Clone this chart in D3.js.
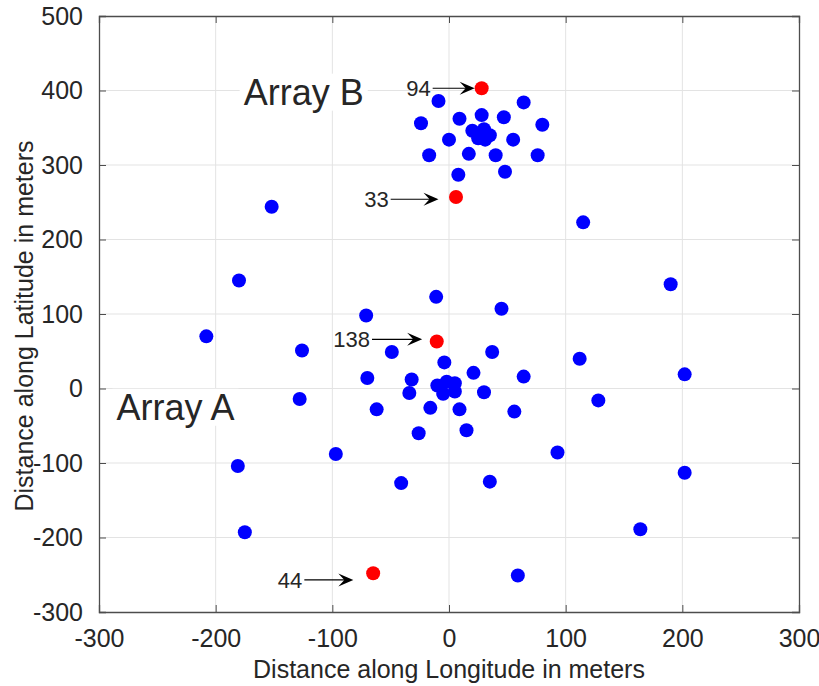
<!DOCTYPE html>
<html><head><meta charset="utf-8">
<script src="https://cdn.jsdelivr.net/npm/d3@7"></script>
<style>body{margin:0;background:#fff;} text{font-family:"Liberation Sans",Arial,Helvetica,sans-serif;}</style>
</head><body>
<svg id="c" width="819" height="686"></svg>
<script>
// ---- data ----
const blueX = [-9,64,-24,9,28,47,80,20,30,35,25,31,0,55,-17,17,40,76,8,48,
  -152,115,-180,190,-208,-11,-71,45,-126,-49,37,112,-4,21,202,-70,-32,64,-10,-2,5,-5,5,-34,30,-128,128,-62,-16,9,56,-26,15,-97,93,-181,202,-41,35,-175,164,59];
const blueY = [386,384,356,362,367,364,354,346,348,340,336,334,334,334,313,315,313,313,287,291,
  244,223,145,140,70,123,98,107,51,49,49,40,35,21,19,14,12,16,4,9,7,-7,-4,-6,-5,-14,-16,-28,-26,-28,-31,-60,-56,-88,-86,-104,-113,-127,-125,-193,-189,-251];
const redX = [28,6,-10.5,-65];
const redY = [403,257,63,-248];
const annLabels = ["94","33","138","44"];
const annStartX = [-14,-50,-66,-124];
const annEndX = [22,-9,-23,-82];
const annY = [403,254,66,-257];
const groupLabels = ["Array B","Array A"];
const groupX = [-176,-285];
const groupY = [381,-42];
const xTicks = [-300,-200,-100,0,100,200,300];
const yTicks = [-300,-200,-100,0,100,200,300,400,500];
const xLabel = "Distance along Longitude in meters";
const yLabel = "Distance along Latitude in meters";

// ---- layout ----
const L=99,R=799,T=16,B=612;
const svg=d3.select("#c");
const x=d3.scaleLinear().domain([-300,300]).range([L,R]);
const y=d3.scaleLinear().domain([-300,500]).range([B,T]);
const textCol="#262626", axisCol="#4d4d4d", gridCol="#e3e3e3";

// grid
svg.append("g").selectAll("line").data(xTicks.slice(1,-1)).join("line")
  .attr("x1",d=>x(d)).attr("x2",d=>x(d)).attr("y1",T).attr("y2",B).attr("stroke",gridCol).attr("stroke-width",1);
svg.append("g").selectAll("line").data(yTicks.slice(1,-1)).join("line")
  .attr("y1",d=>y(d)).attr("y2",d=>y(d)).attr("x1",L).attr("x2",R).attr("stroke",gridCol).attr("stroke-width",1);

// axes (box with inward ticks)
const tl=7;
const fmt=d=>String(d);
const ax=svg.append("g").attr("transform",`translate(0,${B})`).call(d3.axisBottom(x).tickValues(xTicks).tickSize(-tl).tickPadding(10+tl).tickFormat(fmt));
const axT=svg.append("g").attr("transform",`translate(0,${T})`).call(d3.axisTop(x).tickValues(xTicks).tickSize(-tl).tickFormat(""));
const ay=svg.append("g").attr("transform",`translate(${L},0)`).call(d3.axisLeft(y).tickValues(yTicks).tickSize(-tl).tickPadding(9+tl).tickFormat(fmt));
const ayR=svg.append("g").attr("transform",`translate(${R},0)`).call(d3.axisRight(y).tickValues(yTicks).tickSize(-tl).tickFormat(""));
[ax,axT,ay,ayR].forEach(g=>{
  g.select(".domain").attr("stroke",axisCol).attr("stroke-width",1.3);
  g.selectAll(".tick line").attr("stroke",axisCol).attr("stroke-width",1);
  g.selectAll(".tick text").attr("fill",textCol).style("font-size","25px").style("font-family","'Liberation Sans',Arial,sans-serif");
});
ax.selectAll(".tick text").attr("dy","0.71em");

// axis labels
svg.append("text").attr("x",(L+R)/2).attr("y",678).attr("text-anchor","middle")
  .attr("fill",textCol).style("font-size","25px").text(xLabel);
svg.append("text").attr("transform",`translate(33,${(T+B)/2+12}) rotate(-90)`).attr("text-anchor","middle")
  .attr("fill",textCol).style("font-size","25px").text(yLabel);

// group labels with white background
groupLabels.forEach((t,i)=>{
  const g=svg.append("g");
  const tx=g.append("text").attr("x",x(groupX[i])).attr("y",y(groupY[i])).attr("fill",textCol).style("font-size","36px").text(t);
  const bb=tx.node().getBBox();
  g.insert("rect","text").attr("x",bb.x-4).attr("y",bb.y+2).attr("width",bb.width+8).attr("height",bb.height-4).attr("fill","#fff");
});

// points
const blue=blueX.map((v,i)=>({x:v,y:blueY[i]}));
const red=redX.map((v,i)=>({x:v,y:redY[i]}));
svg.append("g").selectAll("circle").data(blue).join("circle")
  .attr("cx",d=>x(d.x)).attr("cy",d=>y(d.y)).attr("r",7).attr("fill","#0000ff");
svg.append("g").selectAll("circle").data(red).join("circle")
  .attr("cx",d=>x(d.x)).attr("cy",d=>y(d.y)).attr("r",7).attr("fill","#ff0000");

// annotations
annLabels.forEach((t,i)=>{
  const x0=x(annStartX[i]), x1=x(annEndX[i]), yy=y(annY[i]);
  svg.append("line").attr("x1",x0).attr("x2",x1-8).attr("y1",yy).attr("y2",yy).attr("stroke","#000").attr("stroke-width",1.2);
  const hl=15, hw=6.5;
  svg.append("path").attr("d",`M${x1},${yy} L${x1-hl},${yy-hw} L${x1-hl*0.6},${yy} L${x1-hl},${yy+hw} Z`).attr("fill","#000");
  svg.append("text").attr("x",x0-2).attr("y",yy).attr("dy","0.35em").attr("text-anchor","end")
    .attr("fill",textCol).style("font-size","22px").text(t);
});
</script>
</body></html>
